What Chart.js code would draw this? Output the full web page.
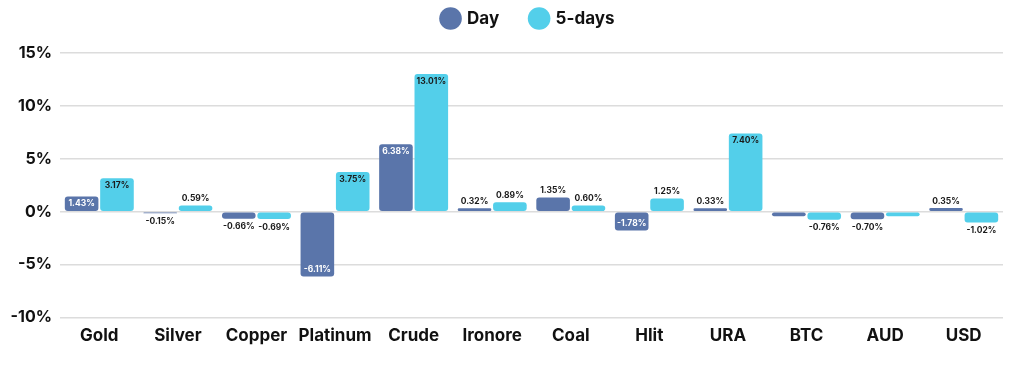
<!DOCTYPE html>
<html>
<head>
<meta charset="utf-8">
<script src="https://cdn.jsdelivr.net/npm/chart.js@4"></script>
<style>
  html, body { margin: 0; padding: 0; background: #fff; }
  #wrap { width: 1024px; height: 368px; position: relative; }
</style>
</head>
<body>
<div id="wrap"><canvas id="myChart"></canvas></div>
<script>
// chart data
var categories = ['Gold', 'Silver', 'Copper', 'Platinum', 'Crude', 'Ironore', 'Coal', 'Hlit', 'URA', 'BTC', 'AUD', 'USD'];
var dayValues = [1.43, -0.15, -0.66, -6.11, 6.38, 0.32, 1.35, -1.78, 0.33, -0.42, -0.70, 0.35];
var fiveDayValues = [3.17, 0.59, -0.69, 3.75, 13.01, 0.89, 0.60, 1.25, 7.40, -0.76, -0.42, -1.02];
// labels not printed on the original
var dayHidden = ['BTC'];
var fiveDayHidden = ['AUD'];
var yTicks = [-10, -5, 0, 5, 10, 15];

var FONT = 'Inter, "DejaVu Sans", sans-serif';

// value labels drawn on / beside each bar
var barLabels = {
    id: 'barLabels',
    afterLayout: function (chart) {
        // legend sits a bit higher and right of the default spot
        var lg = chart.legend;
        if (lg) {
            lg.top -= 16; lg.bottom -= 16;
            lg.left += 27; lg.right += 27;
        }
    },
    afterDatasetsDraw: function (chart) {
        var ctx = chart.ctx;
        var yScale = chart.scales.y;
        var unit = Math.abs(yScale.getPixelForValue(0) - yScale.getPixelForValue(1));
        ctx.save();
        ctx.font = '700 8.5px ' + FONT;
        ctx.textAlign = 'center';
        ctx.textBaseline = 'middle';
        chart.data.datasets.forEach(function (ds, di) {
            var meta = chart.getDatasetMeta(di);
            meta.data.forEach(function (bar, i) {
                if (ds.hidden_labels.indexOf(categories[i]) >= 0) return;
                var v = ds.data[i];
                var txt = v.toFixed(2) + '%';
                var y;
                // bars taller than ~1.4% get the label inside
                if (Math.abs(v) * unit >= 1.4 * unit) {
                    ctx.fillStyle = ds.insideColor;
                    y = v >= 0 ? bar.y + 7 : bar.y - 7;
                } else {
                    ctx.fillStyle = '#1b1b1b';
                    y = v >= 0 ? bar.y - 7 : bar.y + 8;
                }
                ctx.fillText(txt, bar.x, y);
            });
        });
        ctx.restore();
    }
};

var chartBlock = document.getElementById('myChart');
var myChart = new Chart(chartBlock, {
    type: 'bar',
    data: {
        labels: categories,
        datasets: [
            {
                label: 'Day',
                data: dayValues,
                backgroundColor: '#5a75aa',
                insideColor: '#ffffff',
                hidden_labels: dayHidden,
                borderRadius: 3,
                borderSkipped: false
            },
            {
                label: '5-days',
                data: fiveDayValues,
                backgroundColor: '#53cfea',
                insideColor: '#1b1b1b',
                hidden_labels: fiveDayHidden,
                borderRadius: 3,
                borderSkipped: false
            }
        ]
    },
    options: {
        responsive: true,
        maintainAspectRatio: false,
        animation: false,
        layout: {
            padding: { left: 0, right: 21, top: -6, bottom: 14 }
        },
        categoryPercentage: 0.9,
        barPercentage: 0.95,
        plugins: {
            legend: {
                position: 'top',
                labels: {
                    usePointStyle: true,
                    pointStyle: 'circle',
                    boxWidth: 16,
                    boxHeight: 16,
                    padding: 32,
                    color: '#111',
                    font: { family: FONT, size: 17, weight: '700' }
                }
            },
            tooltip: { enabled: false }
        },
        scales: {
            x: {
                grid: { display: false, drawTicks: false },
                border: { display: false },
                ticks: {
                    color: '#111',
                    padding: 8,
                    maxRotation: 0,
                    minRotation: 0,
                    autoSkip: false,
                    font: { family: FONT, size: 17, weight: '700' }
                }
            },
            y: {
                min: -10,
                max: 15,
                afterFit: function (scale) { scale.width = 60; },
                afterBuildTicks: function (scale) {
                    scale.ticks = yTicks.map(function (v) { return { value: v }; });
                },
                grid: { color: '#dcdcdc', lineWidth: 1.5, drawTicks: false },
                border: { display: false },
                ticks: {
                    color: '#111',
                    padding: 8,
                    font: { family: FONT, size: 16, weight: '700' },
                    callback: function (v) { return v + '%'; }
                }
            }
        }
    },
    plugins: [barLabels]
});
</script>
</body>
</html>
